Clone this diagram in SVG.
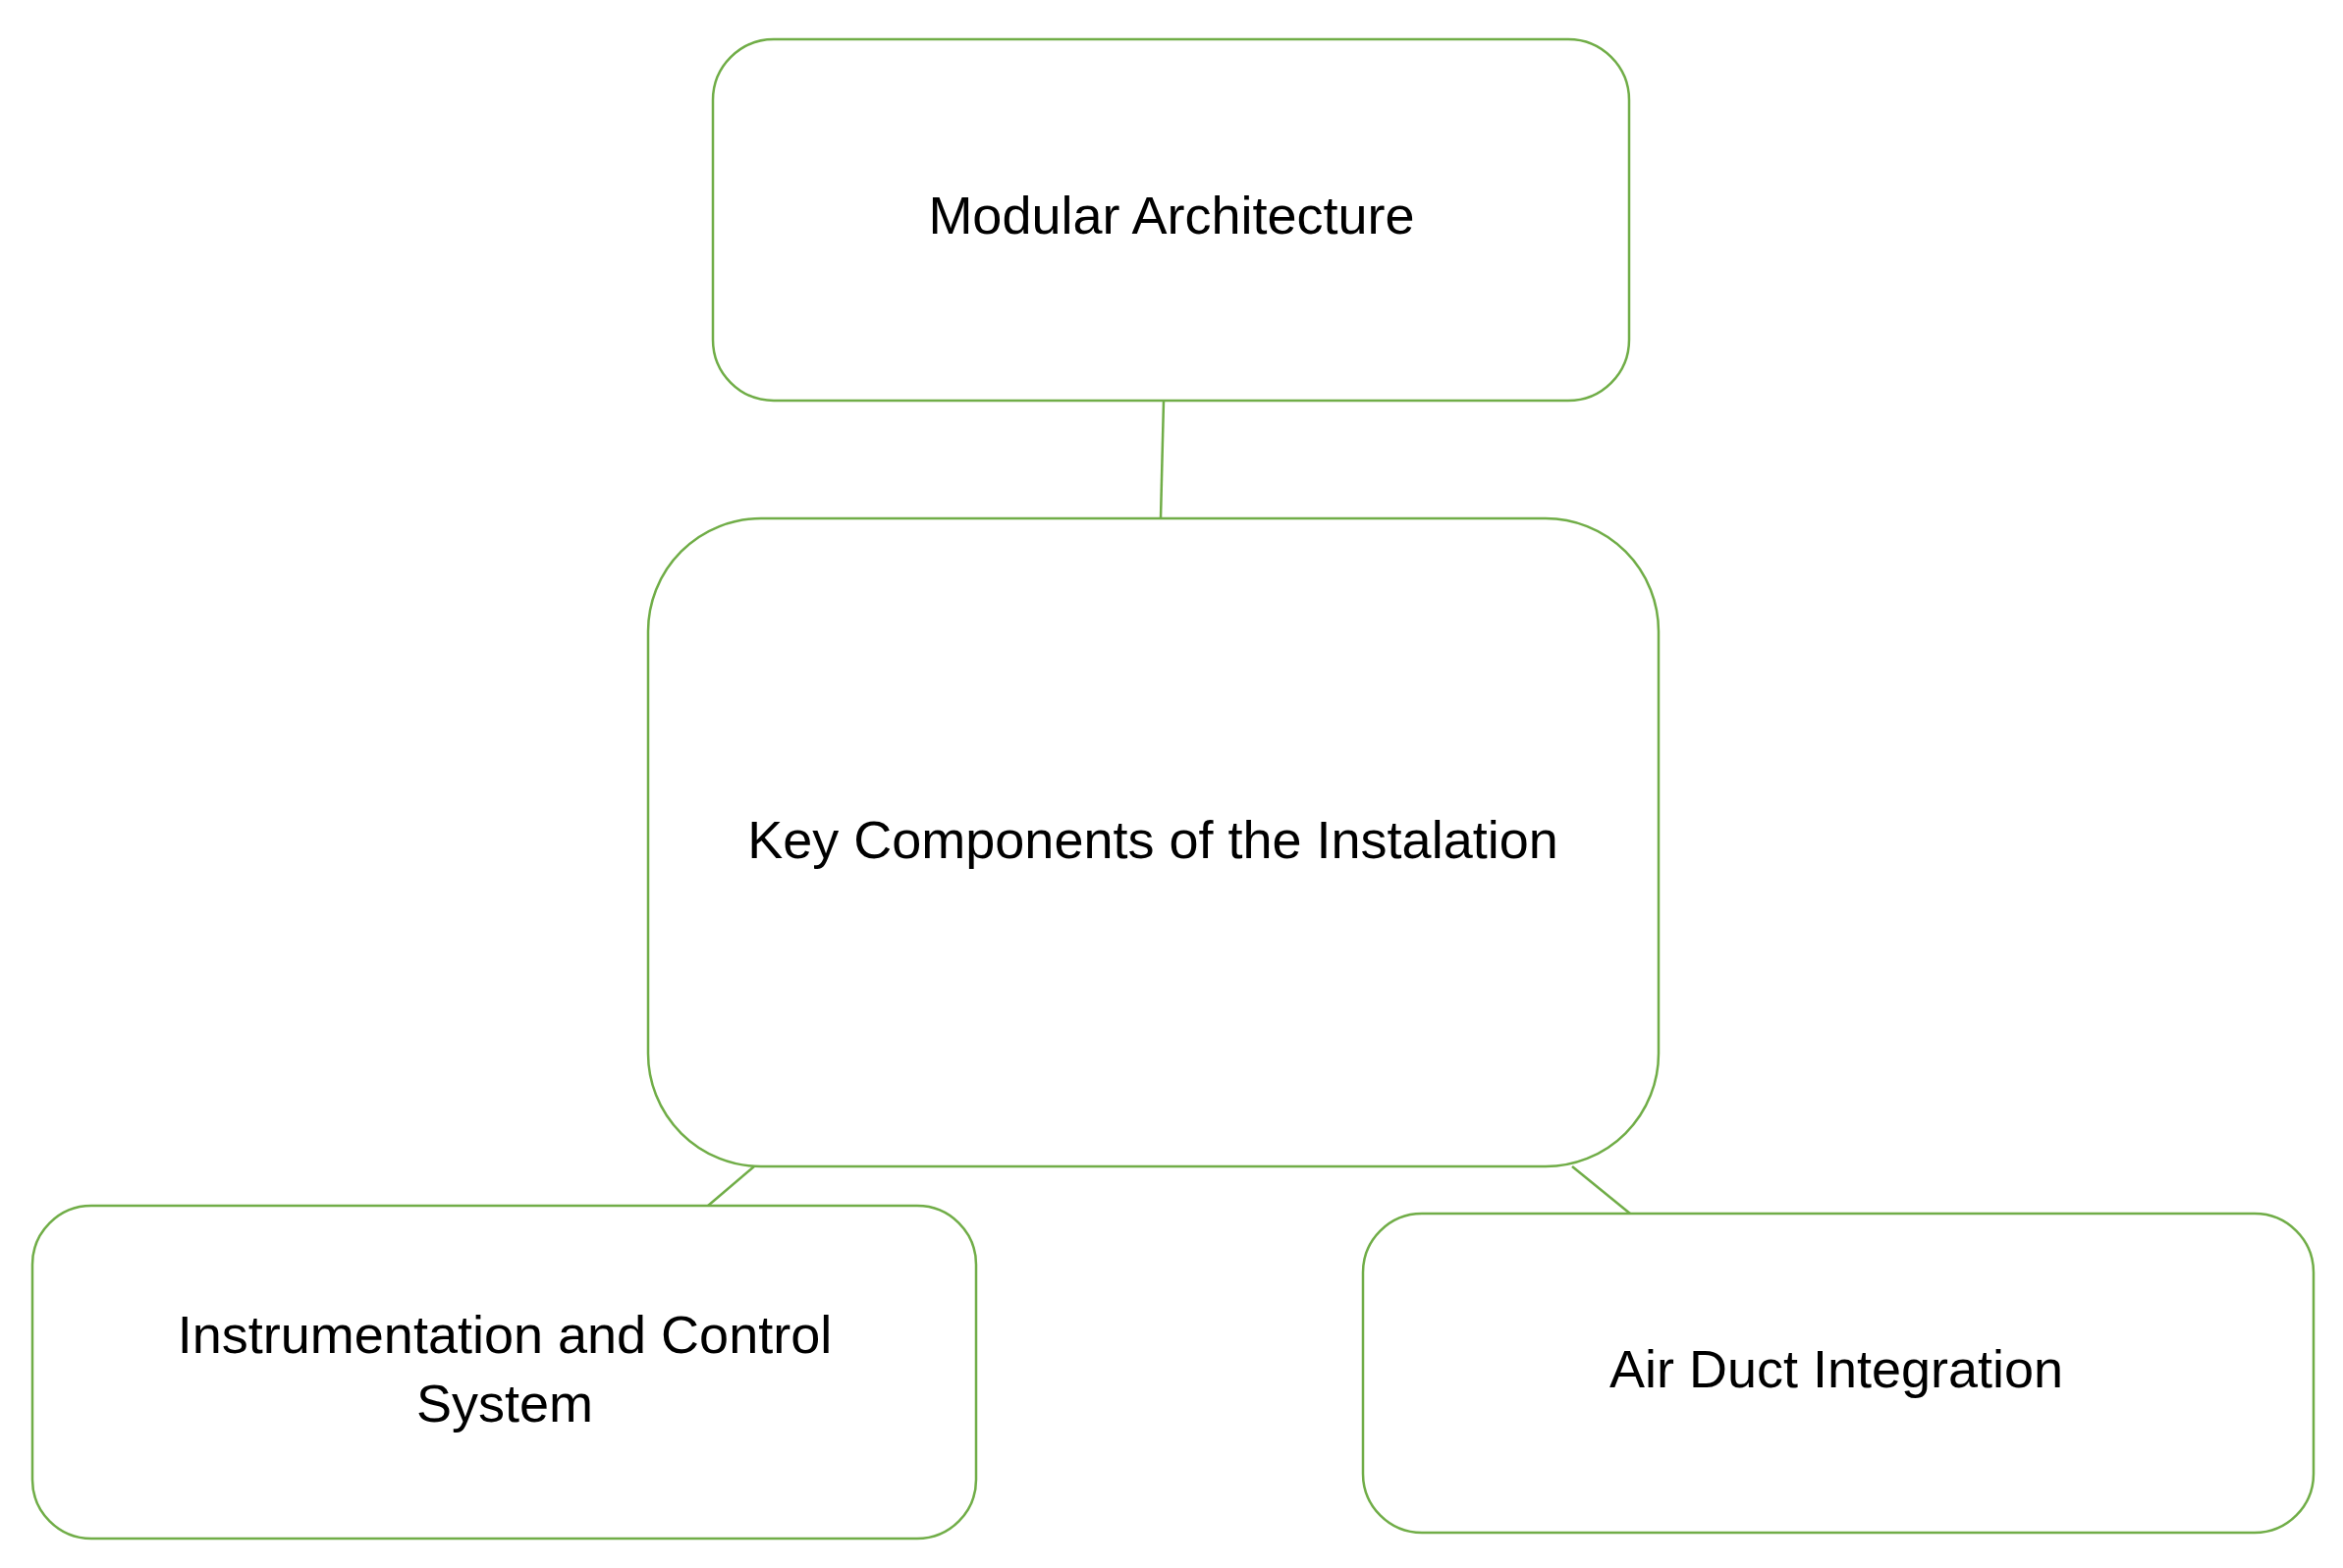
<svg xmlns="http://www.w3.org/2000/svg" width="2386" height="1597" viewBox="0 0 2386 1597">
<style>
.n{fill:#fff;stroke:#70AD47;stroke-width:2.5}
.t{font-family:"Liberation Sans",Arial,sans-serif;font-size:54px;fill:#000;text-anchor:middle}
.c{stroke:#70AD47;stroke-width:2.5;fill:none}
</style>
<rect width="2386" height="1597" fill="#fff"/>
<g id="connectors">
<line class="c" x1="1185" y1="408" x2="1182" y2="528"/>
<line class="c" x1="768" y1="1188" x2="721" y2="1228"/>
<line class="c" x1="1601" y1="1188" x2="1660" y2="1236"/>
</g>
<g id="modular"><rect class="n" x="726" y="40" width="933" height="368" rx="62"/><text class="t" x="1193" y="238">Modular Architecture</text></g>
<g id="key"><rect class="n" x="660" y="528" width="1029" height="660" rx="115"/><text class="t" x="1174" y="874">Key Components of the Instalation</text></g>
<g id="instr"><rect class="n" x="33" y="1228" width="961" height="339" rx="60"/><text class="t" x="514" y="1378">Instrumentation and Control</text><text class="t" x="514" y="1448">System</text></g>
<g id="air"><rect class="n" x="1388" y="1236" width="968" height="325" rx="60"/><text class="t" x="1870" y="1413">Air Duct Integration</text></g>
</svg>
